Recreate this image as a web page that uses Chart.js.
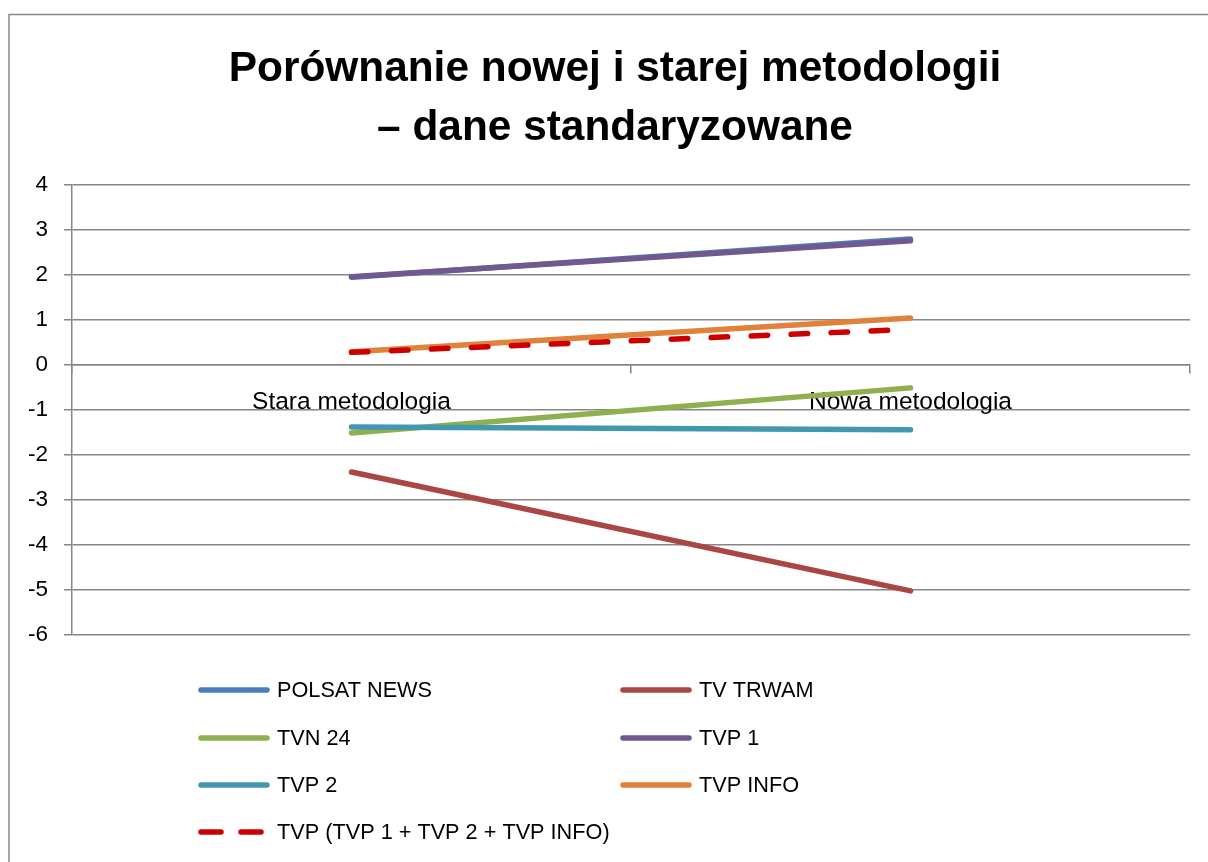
<!DOCTYPE html>
<html>
<head>
<meta charset="utf-8">
<script src="https://cdn.jsdelivr.net/npm/chart.js@4/dist/chart.umd.min.js"></script>
<style>
html,body{margin:0;padding:0;background:#fff;}
#wrap{width:1208px;height:862px;position:relative;}
</style>
</head>
<body>
<div id="wrap"><canvas id="c" width="1208" height="862"></canvas></div>
<script>
const categories = ['Stara metodologia', 'Nowa metodologia'];
const seriesNames = ['POLSAT NEWS', 'TV TRWAM', 'TVN 24', 'TVP 1', 'TVP 2', 'TVP INFO', 'TVP (TVP 1 + TVP 2 + TVP INFO)'];
const polsatNews = [1.95, 2.80];
const tvTrwam = [-2.38, -5.02];
const tvn24 = [-1.51, -0.51];
const tvp1 = [1.96, 2.76];
const tvp2 = [-1.38, -1.44];
const tvpInfo = [0.29, 1.04];
const tvpTotal = [0.28, 0.79];
const yTicks = [-6, -5, -4, -3, -2, -1, 0, 1, 2, 3, 4];

const colors = ['#4A7EBB', '#AA4643', '#8FB04F', '#71588F', '#4198AF', '#E0823A', '#CC0000'];
const seriesValues = [polsatNews, tvTrwam, tvn24, tvp1, tvp2, tvpInfo, tvpTotal];

const datasets = seriesValues.map((vals, i) => ({
  label: seriesNames[i],
  data: vals,
  borderColor: colors[i],
  backgroundColor: colors[i],
  borderWidth: 5.5,
  borderCapStyle: 'round',
  borderJoinStyle: 'round',
  borderDash: i === 6 ? [16.5, 23.5] : [],
  pointRadius: 0,
  pointHoverRadius: 0,
  tension: 0,
  fill: false,
  order: 10 - i
}));

const frame = {
  id: 'frame',
  afterLayout(chart) {
    if (chart.titleBlock) {
      chart.titleBlock.left = 40;
      chart.titleBlock.right = 1190;
    }
  },
  beforeDraw(chart) {
    const ctx = chart.ctx;
    ctx.save();
    ctx.fillStyle = '#fff';
    ctx.fillRect(0, 0, chart.width, chart.height);
    ctx.strokeStyle = '#868686';
    ctx.lineWidth = 1.5;
    ctx.strokeRect(9, 14.5, 1400, 1000);
    ctx.restore();
  }
};

const customLegend = {
  id: 'customLegend',
  afterDraw(chart) {
    const ctx = chart.ctx;
    const cols = [200, 622];
    const rows = [690, 738, 785, 832];
    ctx.save();
    chart.data.datasets.forEach((ds, i) => {
      const x = cols[i % 2];
      const y = rows[Math.floor(i / 2)];
      ctx.beginPath();
      ctx.strokeStyle = ds.borderColor;
      ctx.lineWidth = 5.5;
      ctx.lineCap = 'round';
      ctx.setLineDash(ds.borderDash && ds.borderDash.length ? [20, 20] : []);
      ctx.moveTo(x + 1, y);
      ctx.lineTo(x + 67, y);
      ctx.stroke();
      ctx.setLineDash([]);
      ctx.fillStyle = '#000';
      ctx.font = '21.7px "Liberation Sans", Arial, sans-serif';
      ctx.textBaseline = 'middle';
      ctx.textAlign = 'left';
      ctx.fillText(ds.label, x + 77, y + 1);
    });
    ctx.restore();
  }
};

new Chart(document.getElementById('c'), {
  type: 'line',
  data: { labels: categories, datasets: datasets },
  options: {
    responsive: false,
    animation: false,
    layout: { padding: { left: 0, right: 18, top: 0, bottom: 227 } },
    plugins: {
      legend: { display: false },
      tooltip: { enabled: false },
      title: {
        display: true,
        text: ['Porównanie nowej i starej metodologii', '– dane standaryzowane'],
        color: '#000',
        font: { family: '"Liberation Sans", Arial, sans-serif', weight: 'bold', size: 42.4, lineHeight: 1.39 },
        padding: { top: 40, bottom: 27 }
      }
    },
    scales: {
      y: {
        min: -6,
        max: 4,
        afterFit(scale) { scale.width = 72; },
        afterBuildTicks(scale) { scale.ticks = yTicks.map(v => ({ value: v })); },
        ticks: {
          stepSize: 1,
          color: '#000',
          padding: 16,
          font: { family: '"Liberation Sans", Arial, sans-serif', size: 22.5 }
        },
        grid: { color: '#868686', lineWidth: 1.5, tickLength: 8 },
        border: { color: '#868686', width: 1.5 }
      },
      x: {
        type: 'category',
        position: { y: 0 },
        offset: true,
        ticks: {
          color: '#000',
          padding: 15,
          maxRotation: 0,
          autoSkip: false,
          font: { family: '"Liberation Sans", Arial, sans-serif', size: 24.5 }
        },
        grid: { offset: true, drawOnChartArea: false, drawTicks: true, tickLength: 8, color: '#868686', lineWidth: 1.5 },
        border: { color: '#868686', width: 1.5 }
      }
    }
  },
  plugins: [frame, customLegend]
});
</script>
</body>
</html>
